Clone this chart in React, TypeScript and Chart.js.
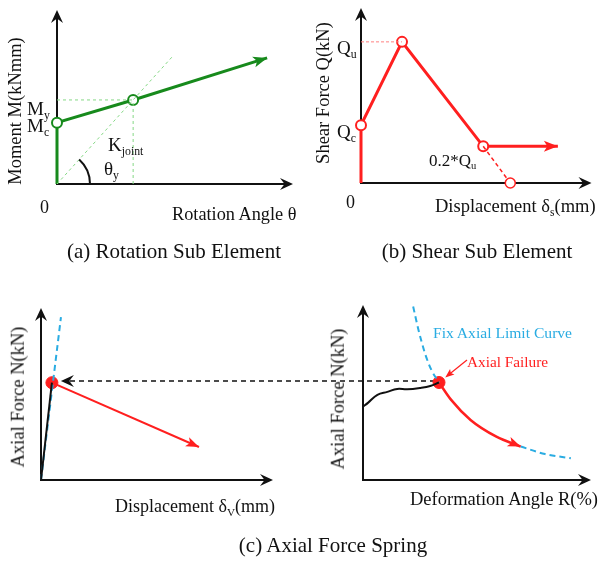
import React, { useEffect, useRef } from "react";
import { Chart, registerables } from "chart.js";

Chart.register(...registerables);

const SERIF = '"Liberation Serif", "Times New Roman", serif';

// ---------- (a) Rotation sub element ----------
const rotTheta = [0, 0, 1.0, 2.76];
const rotMoment = [0, 0.73, 1.0, 1.5];
const rotMarkers = [0, 5, 5, 0];
const rotKjointTheta = [0, 1.51];
const rotKjointMoment = [0, 1.51];
const rotThetaMax = 3.1;
const rotMomentMax = 2.07;

// ---------- (b) Shear sub element ----------
const shearDisp = [0, 0, 1.0, 2.98, 4.8];
const shearForce = [0, 0.41, 1.0, 0.26, 0.26];
const shearMarkers = [0, 5, 5, 5, 0];
const shearDropDisp = [2.98, 3.64];
const shearDropForce = [0.26, 0];
const shearDispMax = 5.62;
const shearForceMax = 1.24;

// ---------- (c) Axial force spring: N - delta ----------
const springDisp = [0, 0.47];
const springForce = [0, 5.6];
const springLimitDisp = [0, 0.86];
const springLimitForce = [0, 9.37];
const springPostDisp = [0.47, 6.81];
const springPostForce = [5.6, 1.9];
const springDispMax = 10;
const springForceMax = 9.9;

// ---------- (c) Axial force spring: N - R ----------
const driftAngle = [0, 0.13, 0.38, 0.64, 0.9, 1.16, 1.51, 1.77, 2.0];
const driftForce = [4.21, 4.43, 4.89, 5.06, 5.23, 5.21, 5.29, 5.4, 5.6];
const limitAngle = [1.32, 1.46, 1.63, 1.8, 2.0, 2.32, 2.83, 3.51, 4.15, 4.79, 5.47];
const limitForce = [9.96, 8.62, 7.28, 6.32, 5.6, 4.6, 3.45, 2.49, 1.92, 1.49, 1.25];
const failureStart = 4;
const failureEnd = 9;
const failureN = 5.6;
const driftAngleMax = 6.0;
const driftForceMax = 10.05;

const GREEN = "#178a1c";
const LIGHT_GREEN = "#86d886";
const RED = "#ff1f1f";
const BLUE = "#2aace2";

const registry: Record<string, any> = {};

const pts = (xs: number[], ys: number[]) => xs.map((x, i) => ({ x, y: ys[i] }));

function arrowHead(ctx: CanvasRenderingContext2D, x: number, y: number, ang: number, len: number, half: number, color: string, notch = 0.3) {
  ctx.save();
  ctx.translate(x, y);
  ctx.rotate(ang);
  ctx.beginPath();
  ctx.moveTo(0, 0);
  ctx.lineTo(-len, -half);
  ctx.lineTo(-len * (1 - notch), 0);
  ctx.lineTo(-len, half);
  ctx.closePath();
  ctx.fillStyle = color;
  ctx.fill();
  ctx.restore();
}

const axesPlugin = {
  id: "arrowAxes",
  beforeDatasetsDraw(chart: any) {
    const { ctx, chartArea: a } = chart;
    ctx.save();
    ctx.strokeStyle = "#111";
    ctx.lineWidth = 2;
    ctx.beginPath();
    ctx.moveTo(a.left, a.top + 6);
    ctx.lineTo(a.left, a.bottom);
    ctx.lineTo(a.right - 6, a.bottom);
    ctx.stroke();
    ctx.restore();
    arrowHead(ctx, a.right, a.bottom, 0, 13, 6, "#111", 0.35);
    arrowHead(ctx, a.left, a.top, -Math.PI / 2, 13, 6, "#111", 0.35);
  },
};

const dataArrowPlugin = {
  id: "dataArrows",
  afterDatasetsDraw(chart: any) {
    const { ctx } = chart;
    chart.data.datasets.forEach((ds: any, i: number) => {
      if (!ds.arrow) return;
      const els = chart.getDatasetMeta(i).data;
      const last = els[els.length - 1];
      const prev = els[els.length - 2];
      let fx = prev.x, fy = prev.y;
      if (ds.tension && last.cp1x !== undefined) { fx = last.cp1x; fy = last.cp1y; }
      const ang = Math.atan2(last.y - fy, last.x - fx);
      arrowHead(ctx, last.x, last.y, ang, ds.arrow.len, ds.arrow.half, ds.borderColor, 0.25);
    });
  },
};

type PanelProps = {
  name: string;
  left: number; top: number; width: number; height: number;
  padding: { left: number; right: number; top: number; bottom: number };
  xMax: number; yMax: number;
  datasets: any[];
  before?: (chart: any) => void;
  after?: (chart: any) => void;
};

function Panel(p: PanelProps) {
  const ref = useRef<HTMLCanvasElement>(null);
  useEffect(() => {
    const extra = {
      id: "extra",
      beforeDatasetsDraw(chart: any) { if (p.before) p.before(chart); },
      afterDatasetsDraw(chart: any) { if (p.after) p.after(chart); },
    };
    const chart = new Chart(ref.current as HTMLCanvasElement, {
      type: "scatter",
      data: {
        datasets: p.datasets.map((d) => ({
          showLine: true,
          pointRadius: 0,
          pointHoverRadius: 0,
          clip: false,
          tension: 0,
          borderCapStyle: "butt",
          pointBackgroundColor: "#fff",
          ...d,
        })),
      },
      options: {
        animation: false,
        responsive: false,
        devicePixelRatio: 1,
        events: [],
        layout: { padding: p.padding },
        scales: {
          x: { type: "linear", display: false, min: 0, max: p.xMax },
          y: { type: "linear", display: false, min: 0, max: p.yMax },
        },
        plugins: { legend: { display: false }, tooltip: { enabled: false } },
      } as any,
      plugins: [axesPlugin, extra, dataArrowPlugin],
    });
    registry[p.name] = chart;
    return () => { chart.destroy(); delete registry[p.name]; };
  }, []);
  return (
    <canvas
      ref={ref}
      width={p.width}
      height={p.height}
      style={{ position: "absolute", left: p.left, top: p.top, width: p.width, height: p.height }}
    />
  );
}

const Sub = ({ children }: { children: any }) => (
  <span style={{ fontSize: "0.62em", verticalAlign: "-0.32em", lineHeight: 0 }}>{children}</span>
);

type TProps = { x: number; y: number; size?: number; color?: string; anchor?: "start" | "middle"; rotate?: boolean; children: any };
function T({ x, y, size = 18, color = "#111", anchor = "start", rotate = false, children }: TProps) {
  const base: React.CSSProperties = {
    position: "absolute",
    fontFamily: SERIF,
    fontSize: size,
    lineHeight: 1,
    whiteSpace: "nowrap",
    color,
  };
  if (rotate) {
    return (
      <div style={{ ...base, left: x, top: y, transform: "translate(-50%, -50%) rotate(-90deg)" }}>{children}</div>
    );
  }
  return (
    <div style={{ ...base, left: x, top: y - 0.8375 * size, transform: anchor === "middle" ? "translateX(-50%)" : undefined }}>
      {children}
    </div>
  );
}

export default function App() {
  const rotDatasets = [
    { data: pts([0, 1], [1, 1]), borderColor: LIGHT_GREEN, borderWidth: 1, borderDash: [3, 3] },
    { data: pts([1, 1], [0, 1]), borderColor: LIGHT_GREEN, borderWidth: 1, borderDash: [3, 3] },
    { data: pts(rotKjointTheta, rotKjointMoment), borderColor: LIGHT_GREEN, borderWidth: 1, borderDash: [3, 3] },
    {
      data: pts(rotTheta, rotMoment), borderColor: GREEN, borderWidth: 3,
      pointRadius: rotMarkers, pointBorderColor: GREEN, pointBorderWidth: 2, arrow: { len: 14, half: 5.5 },
    },
  ];
  const shearDatasets = [
    { data: pts([0, 1], [1, 1]), borderColor: "#ff8080", borderWidth: 1, borderDash: [3, 2] },
    { data: pts(shearDropDisp, shearDropForce), borderColor: RED, borderWidth: 1.5, borderDash: [4, 3], pointRadius: [0, 5], pointBorderColor: RED, pointBorderWidth: 1.5 },
    {
      data: pts(shearDisp, shearForce), borderColor: RED, borderWidth: 3,
      pointRadius: shearMarkers, pointBorderColor: RED, pointBorderWidth: 2, arrow: { len: 14, half: 5.5 },
    },
  ];
  const springDatasets = [
    { data: pts(springDisp, springForce), borderColor: "#111", borderWidth: 2 },
    { data: pts(springLimitDisp, springLimitForce), borderColor: BLUE, borderWidth: 2, borderDash: [6, 4] },
    { data: pts(springPostDisp, springPostForce), borderColor: RED, borderWidth: 2, arrow: { len: 13, half: 5 } },
    { data: pts([springDisp[1]], [springForce[1]]), borderColor: RED, pointRadius: 6, pointBackgroundColor: RED, pointBorderColor: RED, showLine: false },
  ];
  const driftDatasets = [
    { data: pts(driftAngle, driftForce), borderColor: "#111", borderWidth: 2, tension: 0.4 },
    {
      data: pts(limitAngle.slice(0, failureStart + 1), limitForce.slice(0, failureStart + 1)),
      borderColor: BLUE, borderWidth: 2, borderDash: [6, 4], cubicInterpolationMode: "monotone",
    },
    {
      data: pts(limitAngle.slice(failureEnd - 1), limitForce.slice(failureEnd - 1)),
      borderColor: BLUE, borderWidth: 2, borderDash: [6, 4], cubicInterpolationMode: "monotone",
    },
    {
      data: pts(limitAngle.slice(failureStart, failureEnd), limitForce.slice(failureStart, failureEnd)),
      borderColor: RED, borderWidth: 2.5, cubicInterpolationMode: "monotone", tension: 0.4, arrow: { len: 13, half: 5 },
    },
    { data: pts([limitAngle[failureStart]], [failureN]), borderColor: RED, pointRadius: 6, pointBackgroundColor: RED, pointBorderColor: RED, showLine: false },
  ];

  const rotAfter = (chart: any) => {
    const { ctx } = chart;
    const xs = chart.scales.x, ys = chart.scales.y;
    const x0 = xs.getPixelForValue(0), y0 = ys.getPixelForValue(0);
    const x1 = xs.getPixelForValue(rotKjointTheta[1]), y1 = ys.getPixelForValue(rotKjointMoment[1]);
    const ang = Math.atan2(y1 - y0, x1 - x0);
    ctx.save();
    ctx.strokeStyle = "#111";
    ctx.lineWidth = 2;
    ctx.beginPath();
    ctx.arc(x0, y0, 33, ang, 0);
    ctx.stroke();
    ctx.restore();
  };

  // The dashed transfer arrow: from the failure point (N-R) back to the N-delta curve.
  const driftBefore = (chart: any) => {
    const { ctx } = chart;
    const px = chart.scales.x.getPixelForValue(limitAngle[failureStart]);
    const py = chart.scales.y.getPixelForValue(failureN) - 1.5;
    const spring = registry.spring;
    const lx = spring ? spring.scales.x.getPixelForValue(springDisp[1]) : 52;
    const tip = lx + 9;
    ctx.save();
    ctx.strokeStyle = "#111";
    ctx.lineWidth = 1.5;
    ctx.setLineDash([5, 4]);
    ctx.beginPath();
    ctx.moveTo(px - 4, py);
    ctx.lineTo(tip + 8, py);
    ctx.stroke();
    ctx.restore();
    arrowHead(ctx, tip, py, Math.PI, 13, 6, "#111", 0.35);
  };

  const driftAfter = (chart: any) => {
    const { ctx } = chart;
    const px = chart.scales.x.getPixelForValue(limitAngle[failureStart]);
    const py = chart.scales.y.getPixelForValue(failureN);
    const sx = 467, sy = 80;
    const d = Math.hypot(sx - px, sy - py);
    const ux = (sx - px) / d, uy = (sy - py) / d;
    const tx = px + ux * 8, ty = py + uy * 8;
    ctx.save();
    ctx.strokeStyle = RED;
    ctx.lineWidth = 1.2;
    ctx.beginPath();
    ctx.moveTo(sx, sy);
    ctx.lineTo(tx + ux * 6, ty + uy * 6);
    ctx.stroke();
    ctx.restore();
    arrowHead(ctx, tx, ty, Math.atan2(-uy, -ux), 9, 3.5, RED, 0.2);
  };

  return (
    <div style={{ position: "absolute", left: 0, top: 0, width: 598, height: 563, background: "#fff", overflow: "hidden" }}>
      <Panel name="rotation" left={0} top={0} width={300} height={240} padding={{ left: 57, right: 7, top: 10, bottom: 56 }}
        xMax={rotThetaMax} yMax={rotMomentMax} datasets={rotDatasets} after={rotAfter} />
      <Panel name="shear" left={300} top={0} width={298} height={240} padding={{ left: 61, right: 1, top: 8, bottom: 57 }}
        xMax={shearDispMax} yMax={shearForceMax} datasets={shearDatasets} />
      <Panel name="spring" left={0} top={280} width={300} height={283} padding={{ left: 41, right: 27, top: 28, bottom: 83 }}
        xMax={springDispMax} yMax={springForceMax} datasets={springDatasets} />
      <Panel name="drift" left={0} top={280} width={598} height={283} padding={{ left: 363, right: 1, top: 25, bottom: 83 }}
        xMax={driftAngleMax} yMax={driftForceMax} datasets={driftDatasets} before={driftBefore} after={driftAfter} />

      {/* (a) */}
      <T x={15} y={111} size={18.5} rotate>Moment M(kNmm)</T>
      <T x={27} y={115} size={19}>M<Sub>y</Sub></T>
      <T x={27} y={132} size={19}>M<Sub>c</Sub></T>
      <T x={108} y={151} size={19}>K<Sub>joint</Sub></T>
      <T x={104} y={175} size={19}>θ<Sub>y</Sub></T>
      <T x={40} y={213} size={18}>0</T>
      <T x={172} y={220} size={18.3}>Rotation Angle θ</T>
      <T x={174} y={259} size={21} anchor="middle">(a) Rotation Sub Element</T>

      {/* (b) */}
      <T x={323} y={93} size={18.5} rotate>Shear Force Q(kN)</T>
      <T x={337} y={54} size={19}>Q<Sub>u</Sub></T>
      <T x={337} y={138} size={19}>Q<Sub>c</Sub></T>
      <T x={429} y={166} size={17}>0.2*Q<Sub>u</Sub></T>
      <T x={346} y={208} size={18}>0</T>
      <T x={435} y={212} size={18.5}>Displacement δ<Sub>s</Sub>(mm)</T>
      <T x={477} y={259} size={21} anchor="middle">(b) Shear Sub Element</T>

      {/* (c) */}
      <T x={18} y={397} size={18.5} rotate>Axial Force N(kN)</T>
      <T x={115} y={512} size={18}>Displacement δ<Sub>V</Sub>(mm)</T>
      <T x={338} y={399} size={18.5} rotate>Axial Force N(kN)</T>
      <T x={410} y={505} size={18.5}>Deformation Angle R(%)</T>
      <T x={433} y={338} size={15.6} color={BLUE}>Fix Axial Limit Curve</T>
      <T x={467} y={367} size={15.3} color={RED}>Axial Failure</T>
      <T x={333} y={553} size={21} anchor="middle">(c) Axial Force Spring</T>
    </div>
  );
}
